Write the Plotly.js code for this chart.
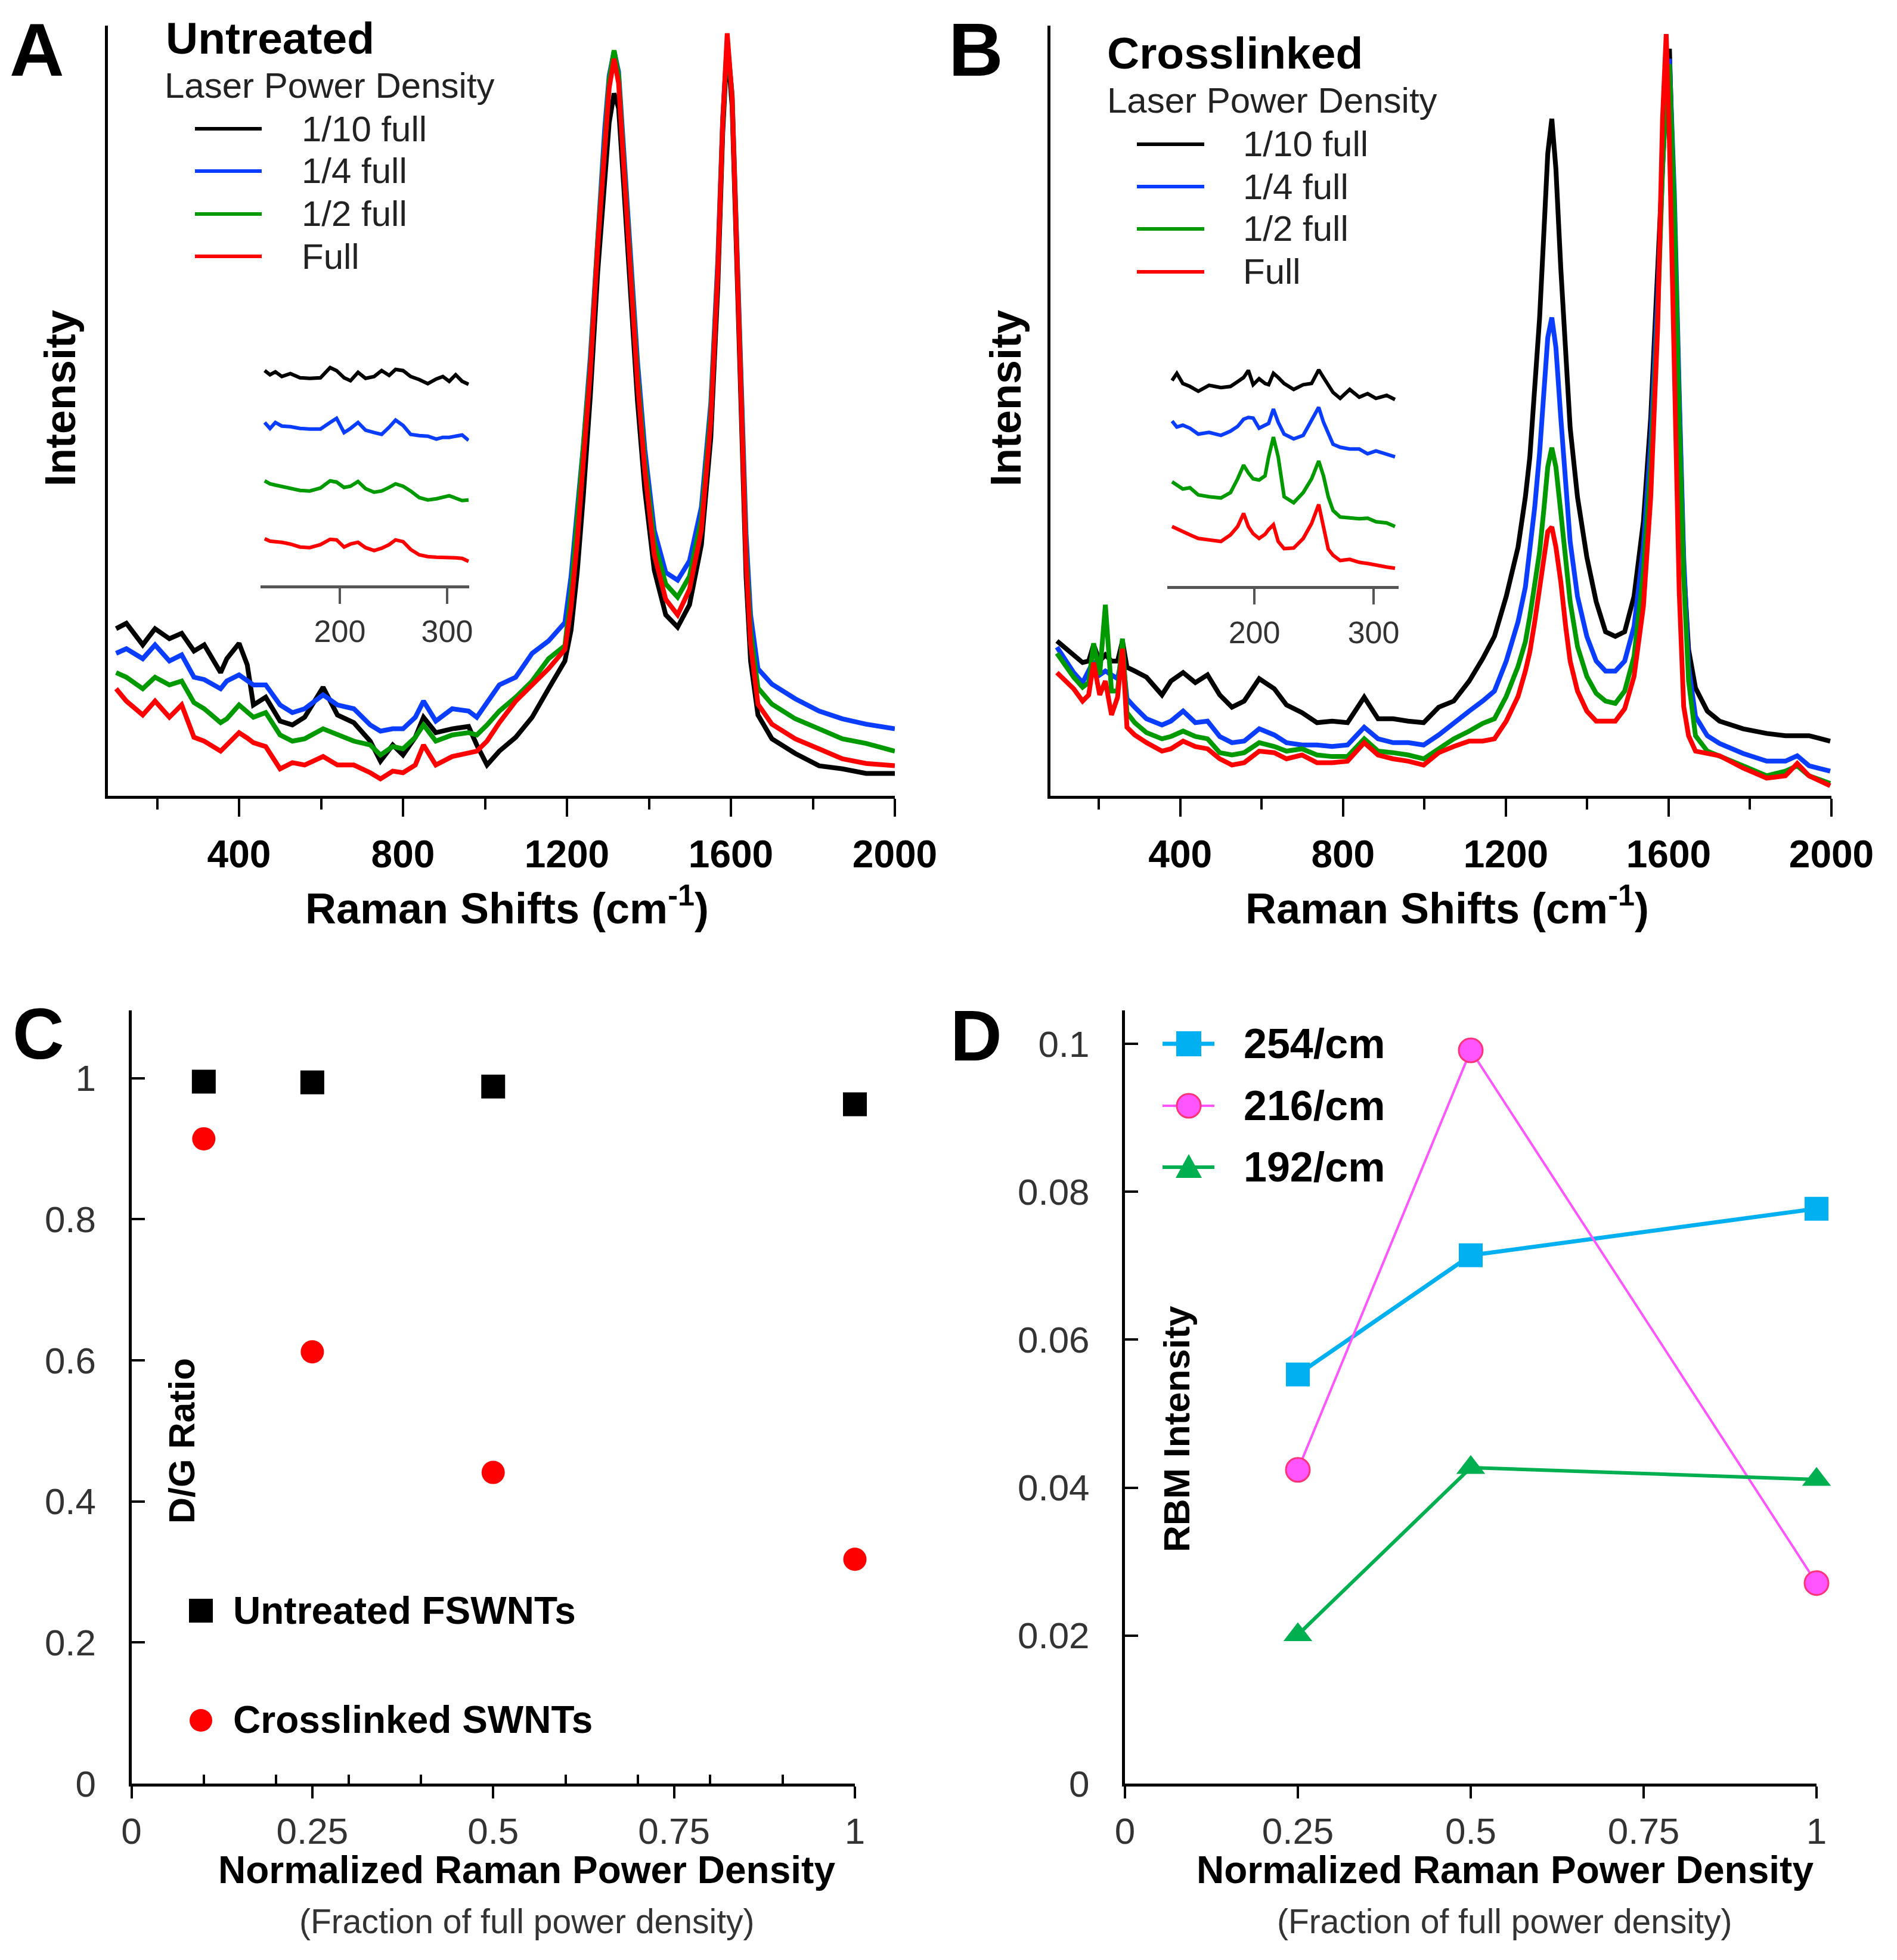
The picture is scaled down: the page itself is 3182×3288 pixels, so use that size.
<!DOCTYPE html>
<html><head><meta charset="utf-8">
<script src="https://cdn.plot.ly/plotly-3.0.1.min.js"></script>
<style>html,body{margin:0;padding:0;background:#fff}#chart{width:3182px;height:3288px}</style>
</head><body><div id="chart"></div>
<script>
// ---------- Panel A (Untreated) spectra ----------
const xA = [100,125,165,195,230,260,290,315,355,370,400,420,435,465,500,530,560,605,640,680,720,745,775,800,830,850,880,920,960,980,1005,1035,1075,1115,1155,1195,1210,1225,1240,1257,1275,1292,1303,1315,1326,1338,1355,1372,1390,1413,1441,1470,1499,1528,1551,1568,1580,1591,1603,1614,1625,1637,1648,1666,1700,1757,1815,1872,1930,2000];
const aTenth = [21.7,22.4,19.6,21.7,20.4,21.1,18.8,19.6,16.0,17.8,19.8,17.0,11.8,12.8,9.7,9.2,10.2,14.1,10.5,9.5,7.1,4.5,6.6,5.3,7.6,10.2,8.2,8.7,9.0,6.6,4.0,5.8,7.6,10.2,13.9,17.5,21.5,29.0,39.0,51.9,68.0,80.9,87.4,91.2,89.3,79.6,65.4,51.3,39.7,29.3,23.5,21.9,24.8,32.6,46.5,66.0,86.0,97.5,89.5,70.0,47.0,28.5,17.5,10.5,7.4,5.5,3.9,3.5,2.9,2.9];
const aQuarter = [18.5,19.1,17.8,19.6,17.5,18.3,15.4,15.1,13.9,14.9,15.7,15.0,14.4,14.4,11.8,10.8,11.3,13.1,11.8,11.3,9.2,8.4,8.7,8.7,10.2,12.3,9.7,11.3,11.0,10.2,12.1,14.4,15.4,18.5,20.1,22.5,28.5,37.0,45.5,57.0,73.0,86.5,93.5,96.7,94.0,84.0,70.0,56.5,45.0,34.5,29.0,28.0,30.5,37.5,51.0,69.5,88.0,98.0,91.0,72.5,51.0,34.0,23.5,16.5,14.5,12.6,11.0,10.0,9.3,8.7];
const aHalf = [16.0,15.4,13.9,15.4,14.4,14.9,12.1,11.3,9.5,10.0,11.8,10.8,10.2,10.8,7.9,7.1,7.4,8.7,7.9,7.1,6.6,5.3,6.4,6.1,7.6,9.2,7.1,7.9,8.2,7.9,9.2,11.0,12.8,14.9,17.8,19.5,26.5,35.5,44.2,56.0,72.0,86.0,93.0,96.8,93.5,83.0,69.0,55.0,43.5,33.0,27.5,25.8,28.5,36.0,50.0,68.5,87.5,98.0,91.0,72.0,50.0,32.0,21.5,14.0,11.9,10.0,8.7,7.4,6.8,5.8];
const aFull = [13.9,12.3,10.5,12.3,10.2,11.8,7.6,7.1,5.8,6.6,8.2,7.5,6.9,6.4,3.5,4.3,4.0,5.1,4.0,4.0,3.0,2.2,3.2,3.0,4.0,6.6,4.0,5.1,5.6,5.8,7.1,9.5,12.3,14.4,16.5,19.0,24.5,33.0,43.5,55.1,71.2,84.8,91.9,95.7,92.5,82.2,68.0,53.8,42.2,31.3,25.5,23.5,26.8,34.5,48.7,68.0,87.4,99.0,90.6,71.2,48.7,30.6,19.7,11.9,9.3,7.4,6.1,4.8,4.2,3.9];

// ---------- Panel A inset (RBM region) ----------
const insAx = [130,135,140,146,154,163,172,182,191,197,204,210,217,224,232,239,246,252,259,266,274,282,290,296,302,308,314,320];
const insATenth = [36,35.3,35.8,35,35.5,34.8,34.7,34.8,36.5,36,34.8,34.3,35.7,34.7,35,36,35.2,36.2,36,35,34.5,33.8,34.6,35,34.2,35.3,34.2,33.7];
const insAQuarter = [27.3,26.3,27.3,26.7,26.6,26.3,26.2,26.2,27.3,28,25.6,26.3,27.3,26,25.6,25.3,26.5,27.7,26.8,25.3,25.1,25,24.5,24.8,24.8,25,25.2,24.3];
const insAHalf = [17.5,17,16.8,16.6,16.2,15.9,15.8,16.3,17.5,17.3,16.4,16.6,17.4,16.2,15.6,15.8,16.4,17,16.6,15.8,14.7,14.3,14.5,14.8,15,14.6,14.2,14.3];
const insAFull = [7.8,7.4,7.3,7.2,6.9,6.4,6.3,6.8,7.7,7.6,6.4,6.9,7.2,6.3,5.8,6.2,6.8,7.6,7.3,6,5.1,4.8,4.7,4.7,4.7,4.6,4.5,4];

// ---------- Panel B (Crosslinked) spectra ----------
const xB = [97,138,160,175,187,202,216,231,246,258,269,288,317,355,377,407,437,467,497,527,557,594,631,661,699,736,773,811,852,886,923,960,998,1035,1072,1110,1143,1172,1201,1230,1248,1259,1271,1283,1294,1303,1313,1323,1335,1347,1358,1376,1399,1422,1445,1469,1492,1515,1538,1556,1573,1585,1594,1602,1614,1626,1637,1649,1666,1695,1725,1783,1841,1887,1916,1945,1997];
const bTenth = [20.1,18.3,17.3,17.5,19.6,17.5,18.3,17.5,17.5,20.1,16.7,16.2,15.4,13.1,14.9,16.0,14.7,15.7,13.1,11.5,12.3,15.2,13.9,11.8,10.8,9.5,9.7,9.5,12.8,10.0,10.0,9.7,9.5,11.5,12.3,14.9,17.8,20.7,25.9,32.3,38.8,44.0,52.4,62.1,73.7,83.4,87.9,81.4,68.5,56.9,47.8,38.8,31.0,25.2,21.3,20.7,21.3,25.9,35.6,49.1,68.5,84.7,92.0,97.0,75.0,49.1,29.7,19.0,14.0,11.0,9.7,8.7,8.1,7.8,7.8,7.8,7.1];
const bQuarter = [19.3,16.0,14.7,16.2,17.5,15.7,16.2,15.7,15.2,18.3,12.6,11.5,10.0,9.2,9.7,11.0,9.5,9.7,7.7,6.9,7.1,8.7,7.9,6.9,6.6,6.6,6.4,6.6,8.9,7.4,6.9,6.9,6.6,7.9,9.5,11.0,12.3,13.6,17.5,22.6,27.1,31.7,37.5,44.6,53.0,59.5,62.1,58.2,49.1,40.7,33.0,25.9,20.7,17.5,16.2,16.2,17.5,22.0,32.3,45.9,64.6,81.4,91.1,95.7,78.2,52.4,31.0,16.8,10.3,7.8,6.8,5.5,4.5,4.5,5.2,3.9,3.2];
const bHalf = [18.5,15.4,14.1,14.7,19.8,15.7,24.8,13.6,13.6,20.4,10.8,9.5,8.2,7.4,7.7,8.4,7.7,7.4,5.6,5.3,5.6,6.9,6.4,5.8,6.1,5.3,5.1,5.1,7.4,5.8,5.6,5.3,4.8,6.1,7.4,8.4,9.4,10.0,12.9,16.8,20.0,23.3,27.1,31.7,37.5,42.7,45.2,42.7,36.8,30.4,25.2,19.4,15.5,13.3,12.3,12.0,13.6,18.1,29.1,42.7,62.1,81.4,91.1,95.0,76.3,49.1,28.4,14.9,7.8,5.8,5.2,3.9,2.6,3.2,3.9,2.6,1.6];
const bFull = [16.0,13.9,12.3,13.1,17.3,13.1,14.9,10.5,12.8,19.1,8.9,7.9,6.9,5.8,6.1,7.1,6.4,6.1,4.8,4.0,4.3,5.8,5.6,4.8,5.3,4.3,4.3,4.5,6.9,5.3,4.8,4.5,4.0,5.6,6.4,7.1,7.1,7.4,9.7,12.9,16.2,18.7,22.6,26.5,31.0,34.3,34.9,32.3,27.8,22.0,17.5,13.6,11.0,9.7,9.7,9.7,11.3,15.5,24.6,38.8,60.8,87.9,98.9,84.7,55.6,26.5,11.6,7.8,5.8,5.5,5.2,3.6,2.3,2.6,4.2,2.6,1.3];

// ---------- Panel B inset ----------
const insBx = [131,135,140,146,153,162,172,180,186,191,195,199,204,209,212,216,220,225,233,241,248,254,258,262,266,272,280,288,295,302,311,318];
const insBTenth = [34.5,35.7,34,33.5,32.7,33.7,33.3,33.5,34.3,35,36.2,33.8,34.8,34,33.8,35.7,35,34,33,33.8,34,36.3,35,33.7,32.5,31.5,33,31.7,32.3,31.5,32,31.3];
const insBQuarter = [27.7,26.7,27,26.5,25.5,25.8,25.3,26,26.8,28,28.3,28.2,26.5,27,27.3,29.7,27.5,25.5,24.7,25.3,27.7,30,27.5,25.5,23.8,23.3,23,23,22.2,22.7,22.2,21.7];
const insBHalf = [17.5,17,16.3,16.5,15.3,15,14.8,15.7,18,20.3,19,18,17.8,18.5,21.7,25,21.7,15,14,15.7,18,21,18.5,15,12.7,11.6,11.4,11.3,11.4,10.8,10.6,10];
const insBFull = [10,9.6,9.2,8.6,8,7.7,7.5,8.6,10,12.2,10,8.8,8,8.7,9.5,10.3,7.5,6.3,6.4,8,10.5,13.7,9.8,6.2,5.2,4.3,4.5,4,3.8,3.5,3.2,3];

const powerNames = ['1/10 full','1/4 full','1/2 full','Full'];
const powerColors = ['#000000','#0a3dff','#009a00','#ff0000'];
const abTickVals = [400,800,1200,1600,2000];
const abTickText = ['400','800','1200','1600','2000'];
const abMinorVals = [200,600,1000,1400,1800];
const insetTickVals = [200,300];
const insetTickText = ['200','300'];

// ---------- Panel C ----------
const cX = [0.1,0.25,0.5,1];
const cUntreated = [0.995,0.994,0.988,0.963];
const cCrosslinked = [0.914,0.612,0.441,0.318];
const cNames = ['Untreated FSWNTs','Crosslinked SWNTs'];
const cTickY = [0,0.2,0.4,0.6,0.8,1];
const cTickYText = ['0','0.2','0.4','0.6','0.8','1'];
const powerTickX = [0,0.25,0.5,0.75,1];
const powerTickXText = ['0','0.25','0.5','0.75','1'];
const cMinorX = [0.1,0.2,0.3,0.4,0.6,0.7,0.8,0.9];

// ---------- Panel D ----------
const dX = [0.25,0.5,1];
const d254 = [0.0553,0.0714,0.0777];
const d216 = [0.0424,0.0991,0.0271];
const d192 = [0.0201,0.0427,0.0411];
const dNames = ['254/cm','216/cm','192/cm'];
const dTickY = [0,0.02,0.04,0.06,0.08,0.1];
const dTickYText = ['0','0.02','0.04','0.06','0.08','0.1'];

// ---------- layout helpers ----------
const W = 3182, H = 3288;
const px = v => v / W;
const py = v => 1 - v / H;
const F = 'Liberation Sans, Arial, sans-serif';

const traces = [];
const specA = [aTenth,aQuarter,aHalf,aFull];
const specB = [bTenth,bQuarter,bHalf,bFull];
const insA = [insATenth,insAQuarter,insAHalf,insAFull];
const insB = [insBTenth,insBQuarter,insBHalf,insBFull];
for (let i = 0; i < 4; i++) {
  traces.push({x:xA, y:specA[i], name:powerNames[i], type:'scatter', mode:'lines', xaxis:'x', yaxis:'y', line:{color:powerColors[i], width:8}, showlegend:false, hoverinfo:'skip'});
}
for (let i = 0; i < 4; i++) {
  traces.push({x:xB, y:specB[i], name:powerNames[i], type:'scatter', mode:'lines', xaxis:'x2', yaxis:'y2', line:{color:powerColors[i], width:8}, showlegend:false, hoverinfo:'skip'});
}
for (let i = 0; i < 4; i++) {
  traces.push({x:insAx, y:insA[i], name:powerNames[i], type:'scatter', mode:'lines', xaxis:'x3', yaxis:'y3', line:{color:powerColors[i], width:6}, showlegend:false, hoverinfo:'skip'});
  traces.push({x:insBx, y:insB[i], name:powerNames[i], type:'scatter', mode:'lines', xaxis:'x4', yaxis:'y4', line:{color:powerColors[i], width:6}, showlegend:false, hoverinfo:'skip'});
}
traces.push({x:cX, y:cUntreated, name:cNames[0], type:'scatter', mode:'markers', xaxis:'x5', yaxis:'y5', cliponaxis:false, marker:{symbol:'square', size:40, color:'#000'}, showlegend:false});
traces.push({x:cX, y:cCrosslinked, name:cNames[1], type:'scatter', mode:'markers', xaxis:'x5', yaxis:'y5', cliponaxis:false, marker:{symbol:'circle', size:39, color:'#ff0000'}, showlegend:false});
traces.push({x:dX, y:d254, name:dNames[0], type:'scatter', mode:'lines+markers', xaxis:'x6', yaxis:'y6', cliponaxis:false, line:{color:'#00b0f0', width:7}, marker:{symbol:'square', size:40, color:'#00b0f0'}, showlegend:false});
traces.push({x:dX, y:d216, name:dNames[1], type:'scatter', mode:'lines+markers', xaxis:'x6', yaxis:'y6', cliponaxis:false, line:{color:'#ff55ff', width:4}, marker:{symbol:'circle', size:40, color:'#ff55ff', line:{color:'#ff3377', width:3}}, showlegend:false});
traces.push({x:dX, y:d192, name:dNames[2], type:'scatter', mode:'lines+markers', xaxis:'x6', yaxis:'y6', cliponaxis:false, line:{color:'#00b050', width:6}, marker:{symbol:'triangle-up', size:42, color:'#00b050'}, showlegend:false});

const spectX = (dom, rng, anchor) => ({
  domain: dom, range: rng, anchor: anchor, showline: true, linewidth: 5, linecolor: '#000',
  ticks: 'outside', ticklen: 30, tickwidth: 4, tickcolor: '#000',
  tickvals: abTickVals, ticktext: abTickText, ticklabelstandoff: 8,
  tickfont: {family: F, size: 64, color: '#000', weight: 'bold'},
  minor: {tickvals: abMinorVals, ticks: 'outside', ticklen: 18, tickwidth: 4, tickcolor: '#000', showgrid: false},
  showgrid: false, zeroline: false, fixedrange: true
});
const spectY = (dom, anchor) => ({
  domain: dom, range: [0,100], anchor: anchor, showline: true, linewidth: 5, linecolor: '#000',
  ticks: '', showticklabels: false, showgrid: false, zeroline: false, fixedrange: true
});
const insetX = (dom, rng, anchor) => ({
  domain: dom, range: rng, anchor: anchor, showline: true, linewidth: 5, linecolor: '#555',
  ticks: 'outside', ticklen: 26, tickwidth: 4, tickcolor: '#555',
  tickvals: insetTickVals, ticktext: insetTickText, ticklabelstandoff: 2,
  tickfont: {family: F, size: 52, color: '#333'},
  showgrid: false, zeroline: false, fixedrange: true
});
const insetY = (dom, anchor) => ({domain: dom, range: [0,40], anchor: anchor, visible: false, fixedrange: true});

const powX = (dom, anchor, minorVals) => {
  const a = {
    domain: dom, range: [0,1], anchor: anchor, showline: true, linewidth: 5, linecolor: '#000',
    ticks: 'outside', ticklen: 20, tickwidth: 4, tickcolor: '#000',
    tickvals: powerTickX, ticktext: powerTickXText, ticklabelstandoff: 2,
    tickfont: {family: F, size: 62, color: '#333'},
    showgrid: false, zeroline: false, fixedrange: true
  };
  if (minorVals) a.minor = {tickvals: minorVals, ticks: 'inside', ticklen: 15, tickwidth: 4, tickcolor: '#000', showgrid: false};
  return a;
};
const powY = (dom, rng, anchor, vals, text) => ({
  domain: dom, range: rng, anchor: anchor, showline: true, linewidth: 5, linecolor: '#000',
  ticks: 'inside', ticklen: 22, tickwidth: 4, tickcolor: '#000',
  tickvals: vals, ticktext: text, ticklabelstandoff: 42,
  tickfont: {family: F, size: 62, color: '#333'},
  showgrid: false, zeroline: false, fixedrange: true
});

const ann = [];
const addText = (text, x, y, size, o) => {
  o = o || {};
  ann.push({text: text, x: px(x), y: py(y), xref: 'paper', yref: 'paper', showarrow: false,
    xanchor: o.xa || 'center', yanchor: o.ya || 'middle', textangle: o.angle || 0,
    font: {family: F, size: size, color: o.color || '#000', weight: o.bold ? 'bold' : 'normal'}});
};
// panel letters
addText('A', 62, 83, 127, {bold: true});
addText('B', 1637, 83, 127, {bold: true});
addText('C', 64, 1734, 120, {bold: true});
addText('D', 1637, 1737, 120, {bold: true});
// panel A / B legends
addText('Untreated', 276, 64, 75, {bold: true, xa: 'left'});
addText('Laser Power Density', 274, 143, 60, {xa: 'left', color: '#222'});
const legAy = [216, 287, 359, 430];
const legBy = [242, 313, 384, 456];
for (let i = 0; i < 4; i++) {
  addText(powerNames[i], 504, legAy[i], 60, {xa: 'left', color: '#222'});
  addText(powerNames[i], 2083, legBy[i], 60, {xa: 'left', color: '#222'});
}
addText('Crosslinked', 1855, 89, 75, {bold: true, xa: 'left'});
addText('Laser Power Density', 1855, 169, 60, {xa: 'left', color: '#222'});
// axis titles A/B
addText('Intensity', 101, 668, 72, {bold: true, angle: -90});
addText('Intensity', 1687, 668, 72, {bold: true, angle: -90});
addText('Raman Shifts (cm<sup>-1</sup>)', 851, 1566, 72, {bold: true, ya: 'bottom'});
addText('Raman Shifts (cm<sup>-1</sup>)', 2427, 1566, 72, {bold: true, ya: 'bottom'});
// panel C
addText('D/G Ratio', 305, 2417, 61, {bold: true, angle: -90});
addText(cNames[0], 389, 2702, 64, {bold: true, xa: 'left'});
addText(cNames[1], 389, 2885, 64, {bold: true, xa: 'left'});
addText('Normalized Raman Power Density', 883, 3137, 64, {bold: true});
addText('(Fraction of full power density)', 883, 3223, 57, {color: '#333'});
// panel D
addText('RBM Intensity', 1973, 2397, 62, {bold: true, angle: -90});
const legDy = [1751, 1855, 1958];
for (let i = 0; i < 3; i++) addText(dNames[i], 2084, legDy[i], 70, {bold: true, xa: 'left'});
addText('Normalized Raman Power Density', 2524, 3137, 64, {bold: true});
addText('(Fraction of full power density)', 2523, 3223, 57, {color: '#333'});

const shapes = [];
for (let i = 0; i < 4; i++) {
  shapes.push({type: 'line', xref: 'paper', yref: 'paper', x0: px(327), x1: px(439), y0: py(legAy[i]), y1: py(legAy[i]), line: {color: powerColors[i], width: 6}});
  shapes.push({type: 'line', xref: 'paper', yref: 'paper', x0: px(1907), x1: px(2020), y0: py(legBy[i]), y1: py(legBy[i]), line: {color: powerColors[i], width: 6}});
}
// C legend symbols
shapes.push({type: 'rect', xref: 'paper', yref: 'paper', x0: px(317), x1: px(357), y0: py(2722), y1: py(2682), fillcolor: '#000', line: {width: 0}});
shapes.push({type: 'circle', xref: 'paper', yref: 'paper', x0: px(318), x1: px(356), y0: py(2905), y1: py(2867), fillcolor: '#ff0000', line: {width: 0}});
// D legend symbols
const dLegCol = ['#00b0f0','#ff55ff','#00b050'];
const dLegW = [7,4,6];
for (let i = 0; i < 3; i++) {
  shapes.push({type: 'line', xref: 'paper', yref: 'paper', x0: px(1950), x1: px(2037), y0: py(legDy[i]), y1: py(legDy[i]), line: {color: dLegCol[i], width: dLegW[i]}});
}
shapes.push({type: 'rect', xref: 'paper', yref: 'paper', x0: px(1973), x1: px(2015), y0: py(1772), y1: py(1730), fillcolor: '#00b0f0', line: {width: 0}});
shapes.push({type: 'circle', xref: 'paper', yref: 'paper', x0: px(1974), x1: px(2014), y0: py(1875), y1: py(1835), fillcolor: '#ff55ff', line: {color: '#ff3377', width: 3}});
shapes.push({type: 'path', xref: 'paper', yref: 'paper', path: 'M' + px(1972) + ',' + py(1976) + ' L' + px(2016) + ',' + py(1976) + ' L' + px(1994) + ',' + py(1936) + ' Z', fillcolor: '#00b050', line: {width: 0}});

const layout = {
  width: W, height: H, margin: {l: 0, r: 0, t: 0, b: 0, pad: 0},
  paper_bgcolor: '#fff', plot_bgcolor: 'rgba(0,0,0,0)', showlegend: false,
  font: {family: F, color: '#000'},
  xaxis: spectX([px(181), px(1501)], [80, 2000], 'y'),
  yaxis: spectY([py(1335), py(43)], 'x'),
  xaxis2: spectX([px(1762), px(3072)], [81, 2000], 'y2'),
  yaxis2: spectY([py(1335), py(43)], 'x2'),
  xaxis3: insetX([px(436.7), px(786.7)], [126, 320.4], 'y3'),
  yaxis3: insetY([py(981.7), py(581.7)], 'x3'),
  xaxis4: insetX([px(1958), px(2346)], [127, 321], 'y4'),
  yaxis4: insetY([py(983.3), py(583.3)], 'x4'),
  xaxis5: powX([px(220.5), px(1434)], 'y5', cMinorX),
  yaxis5: powY([py(2992), py(1695)], [0, 1.096], 'x5', cTickY, cTickYText),
  xaxis6: powX([px(1887), px(3047)], 'y6', null),
  yaxis6: powY([py(2992), py(1695)], [0, 0.1045], 'x6', dTickY, dTickYText),
  annotations: ann,
  shapes: shapes
};
Plotly.newPlot('chart', traces, layout, {staticPlot: true, displayModeBar: false});
</script></body></html>
